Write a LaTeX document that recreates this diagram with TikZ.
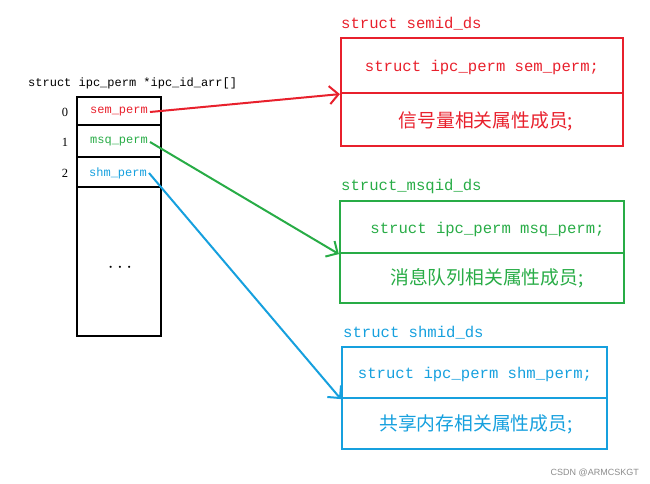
\documentclass[tikz,border=0pt]{standalone}
\usepackage{fontspec}
\setmainfont{Liberation Serif}
\setmonofont{Liberation Mono}
\newfontfamily\cjk{Noto Sans CJK SC}
\newfontfamily\wmfont{Liberation Sans}
\usetikzlibrary{arrows.meta}
\definecolor{cred}{RGB}{232,32,44}
\definecolor{cgreen}{RGB}{40,172,70}
\definecolor{cblue}{RGB}{22,160,222}
\tikzset{
  cell/.style={draw=black, line width=2pt, minimum width=84pt, inner sep=0pt},
  celltext/.style={font=\ttfamily\fontsize{12}{12}\selectfont, inner sep=2pt},
  idx/.style={font=\fontsize{12.5}{12.5}\selectfont},
  sbox/.style={draw, line width=2.2pt, inner sep=0pt},
  mtext/.style={font=\ttfamily\fontsize{15.6}{15.6}\selectfont},
  ctext/.style={font=\cjk\fontsize{18.8}{18.8}\selectfont},
  title/.style={font=\ttfamily\fontsize{15.6}{15.6}\selectfont, anchor=west, inner sep=0pt},
  ptr/.style={line width=2pt, -{Straight Barb[length=9pt,width=18pt,line width=2pt]}},
}
\begin{document}
\begin{tikzpicture}[x=1pt,y=-1pt]
\useasboundingbox (0,0) rectangle (650,484);
% array
\node[font=\ttfamily\fontsize{12}{12}\selectfont, anchor=west, inner sep=0pt] (arrtitle) at (28,83) {struct ipc\_perm *ipc\_id\_arr[]};
\node[cell, minimum height=28pt] (c0) at (119,111.5) {};
\node[cell, minimum height=31pt] (c1) at (119,141) {};
\node[cell, minimum height=30pt] (c2) at (119,172) {};
\node[cell, minimum height=149pt] (c3) at (119,261.5) {};
\node[celltext, text=cred] (t0) at (119,112) {sem\_perm};
\node[celltext, text=cgreen] (t1) at (119,142) {msq\_perm};
\node[celltext, text=cblue] (t2) at (118,173) {shm\_perm};
\node[font=\fontsize{20}{20}\selectfont] (dots) at (120,268) {$\cdots$};
\node[idx] (i0) at (65,112) {0};
\node[idx] (i1) at (65,142) {1};
\node[idx] (i2) at (65,173) {2};
% semid_ds
\node[title, text=cred] (semt) at (341,24) {struct semid\_ds};
\node[sbox, draw=cred, minimum width=282pt, minimum height=55pt] (semtop) at (482,65.5) {};
\node[sbox, draw=cred, minimum width=282pt, minimum height=53pt] (sembot) at (482,119.5) {};
\node[mtext, text=cred] (semtx) at (482,67) {struct ipc\_perm sem\_perm;};
\node[ctext, text=cred] (semcx) at (486,121) {信号量相关属性成员;};
% msqid_ds
\node[title, text=cgreen] (msqt) at (341,186) {struct\_msqid\_ds};
\node[sbox, draw=cgreen, minimum width=284pt, minimum height=52pt] (msqtop) at (482,227) {};
\node[sbox, draw=cgreen, minimum width=284pt, minimum height=50pt] (msqbot) at (482,278) {};
\node[mtext, text=cgreen] (msqtx) at (487.5,229) {struct ipc\_perm msq\_perm;};
\node[ctext, text=cgreen] (msqcx) at (487,278) {消息队列相关属性成员;};
% shmid_ds
\node[title, text=cblue] (shmt) at (343,333) {struct shmid\_ds};
\node[sbox, draw=cblue, minimum width=265pt, minimum height=51pt] (shmtop) at (474.5,372.5) {};
\node[sbox, draw=cblue, minimum width=265pt, minimum height=51pt] (shmbot) at (474.5,423.5) {};
\node[mtext, text=cblue] (shmtx) at (475,374) {struct ipc\_perm shm\_perm;};
\node[ctext, text=cblue] (shmcx) at (476,424) {共享内存相关属性成员;};
% arrows
\draw[ptr, draw=cred] (t0.east) -- (semtop.south west);
\draw[ptr, draw=cgreen] (t1.east) -- (msqtop.south west);
\draw[ptr, draw=cblue] (t2.east) -- (shmtop.south west);
% watermark
\node[font=\wmfont\fontsize{9}{9}\selectfont, text=black!45, anchor=east, inner sep=0pt] (wm) at (639,473) {CSDN @ARMCSKGT};
\end{tikzpicture}
\end{document}
